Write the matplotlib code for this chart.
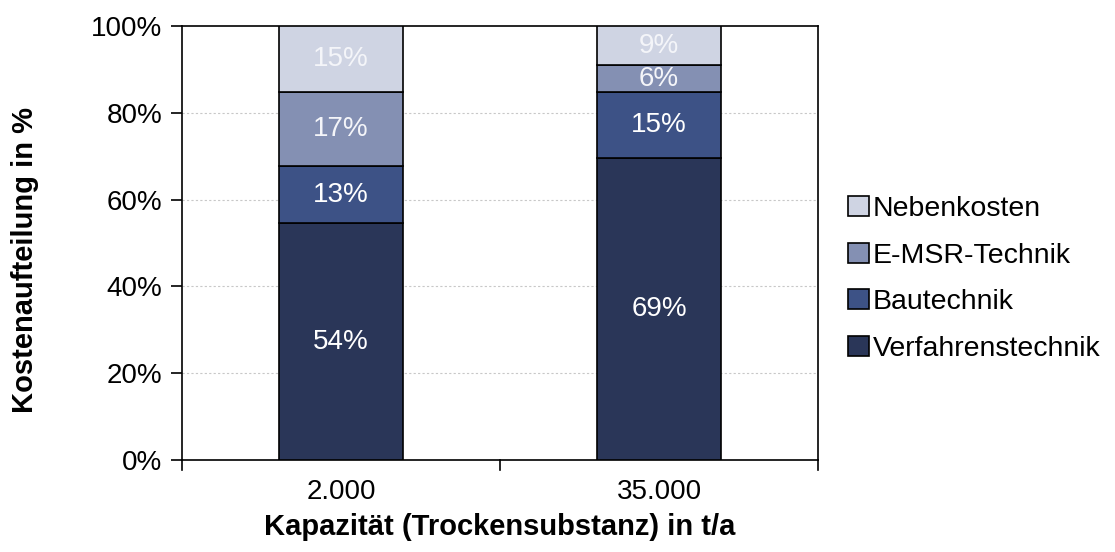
import matplotlib
matplotlib.use("Agg")
import matplotlib.pyplot as plt
import numpy as np
from matplotlib.patches import Patch

plt.rcParams['font.family'] = ['Liberation Sans', 'DejaVu Sans']

categories = ["2.000", "35.000"]
series_names = ["Verfahrenstechnik", "Bautechnik", "E-MSR-Technik", "Nebenkosten"]
verfahrenstechnik = [54, 69]
bautechnik = [13, 15]
emsr_technik = [17, 6]
nebenkosten = [15, 9]
y_ticks = [0, 20, 40, 60, 80, 100]

series = [verfahrenstechnik, bautechnik, emsr_technik, nebenkosten]
colors = ["#2a3658", "#3d5286", "#8490b3", "#cfd4e3"]
text_colors = ["white", "white", "#f4f5f9", "#f4f5f9"]
FS = 20

data = np.array(series, dtype=float)
totals = data.sum(axis=0)
shares = data / totals * 100  # 100 % stacked

fig = plt.figure(figsize=(11.15, 5.52), dpi=100)
ax = fig.add_axes([182/1115, 1 - 460/552, 636/1115, 434/552])

x = np.arange(len(categories))
bottom = np.zeros(len(categories))
for vals, pct, col, tcol in zip(data, shares, colors, text_colors):
    ax.bar(x, pct, width=0.39, bottom=bottom, color=col,
           edgecolor="black", linewidth=1.2, zorder=3)
    for xi, b, p, v in zip(x, bottom, pct, vals):
        ax.text(xi, b + p / 2, f"{int(v)}%", ha="center", va="center",
                color=tcol, fontsize=FS, zorder=4)
    bottom += pct

ax.set_xlim(-0.5, len(categories) - 0.5)
ax.set_ylim(0, 100)
ax.set_yticks(y_ticks)
ax.set_yticklabels([f"{t}%" for t in y_ticks], fontsize=FS)
ax.set_xticks(x)
ax.set_xticklabels(categories, fontsize=FS)
ax.tick_params(axis="x", length=0, pad=14)
ax.tick_params(axis="y", length=8, width=1.2, pad=6)

# category separators on the x-axis
for b in [-0.5, 0.5, 1.5]:
    ax.plot([b, b], [0, -2.2], color="black", lw=1.2, clip_on=False, zorder=5)

for y in y_ticks[1:-1]:
    ax.axhline(y, color="#c8c8c8", lw=0.8, ls=(0, (2, 2)), zorder=1)

for s in ax.spines.values():
    s.set_linewidth(1.2)
    s.set_color("black")

ax.set_ylabel("Kostenaufteilung in %", fontsize=21, fontweight="bold")
ax.yaxis.set_label_coords((25 - 182) / 636, (460 - 260) / 434)
ax.set_xlabel("Kapazität (Trockensubstanz) in t/a", fontsize=21, fontweight="bold")
ax.xaxis.set_label_coords(0.5, (460 - 527) / 434)
ax.xaxis.label.set_va("center")
ax.yaxis.label.set_va("center")

handles = [Patch(facecolor=c, edgecolor="black", linewidth=1.2) for c in colors]
leg = fig.legend(handles[::-1], series_names[::-1], loc="center left",
                 bbox_to_anchor=(848/1115, 1 - 279/552), frameon=False,
                 fontsize=20.5, handlelength=0.75, handleheight=0.7,
                 handletextpad=0.12, labelspacing=0.72, borderaxespad=0,
                 borderpad=0)

fig.savefig("out.png", dpi=100)
